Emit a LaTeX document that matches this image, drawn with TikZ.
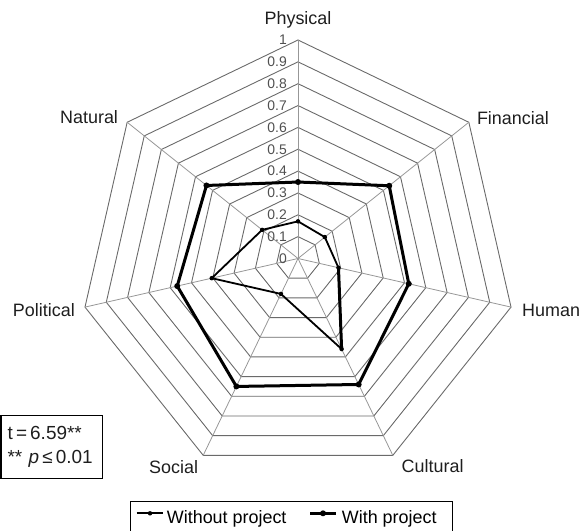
\documentclass[tikz,border=0pt]{standalone}
\usepackage{fontspec}
\setmainfont{Liberation Sans}
\usepackage{tikz}
\usetikzlibrary{positioning,calc}
\definecolor{gridgray}{HTML}{6A6A6A}
\definecolor{tickgray}{HTML}{505050}
\definecolor{labelgray}{HTML}{1E1E1E}

\begin{document}
\begin{tikzpicture}[
  x=1bp, y=1bp,
  axislabel/.style={font=\fontsize{18}{21}\selectfont, text=labelgray, inner sep=0pt},
  ticklabel/.style={font=\fontsize{14}{16}\selectfont, text=tickgray, anchor=east, inner sep=0pt},
  ring/.style={draw=gridgray, line width=0.9bp},
  spoke/.style={draw=gridgray!70, line width=0.8bp},
  noproj/.style={draw=black, line width=1.8bp, line join=round},
  yesproj/.style={draw=black, line width=3bp, line join=round},
  ptdot/.style={circle, fill=black, inner sep=0pt, minimum size=#1},
  infobox/.style={draw=black, line width=1.2bp, inner sep=0pt}
]
  \useasboundingbox (0,0) rectangle (580,531);

  % RADAR: centre, 0.1 per 21.85bp
  \begin{scope}[shift={(298,272.5)}]
    \coordinate (ctr) at (0,0);
    \foreach \name [count=\i from 0] in {phys,fin,hum,cult,soc,pol,nat}
      \coordinate (\name) at ({90-\i*360/7}:218.5);

    % rings 0.1 .. 1
    \foreach \k in {1,...,10}
      \draw[ring] (90:{\k*21.85}) \foreach \i in {1,...,6} { -- ({90-\i*360/7}:{\k*21.85}) } -- cycle;

    % spokes
    \foreach \name in {phys,fin,hum,cult,soc,pol,nat}
      \draw[spoke] (ctr) -- (\name);

    % scale labels
    \foreach \v [count=\k from 0] in {0,0.1,0.2,0.3,0.4,0.5,0.6,0.7,0.8,0.9,1}
      \node[ticklabel] (tick\k) at (-11,{\k*21.85}) {\v};

    % Without project
    \foreach \v [count=\i from 0] in {0.17,0.157,0.19,0.46,0.18,0.405,0.21}
      \coordinate (wo\i) at ({90-\i*360/7}:{\v*218.5});
    \draw[noproj] (wo0) -- (wo1) -- (wo2) -- (wo3) -- (wo4) -- (wo5) -- (wo6) -- cycle;
    \draw[yesproj] (wo2) -- (wo3);
    \foreach \i in {0,...,6}
      \node[ptdot=4.5bp] (dwo\i) at (wo\i) {};

    % With project
    \foreach \v [count=\i from 0] in {0.35,0.534,0.52,0.64,0.65,0.567,0.536}
      \coordinate (wp\i) at ({90-\i*360/7}:{\v*218.5});
    \draw[yesproj] (wp0) -- (wp1) -- (wp2) -- (wp3) -- (wp4) -- (wp5) -- (wp6) -- cycle;
    \foreach \i in {0,...,6}
      \node[ptdot=6bp] (dwp\i) at (wp\i) {};
  \end{scope}

  % Axis names
  \node[axislabel, above=12bp of phys] (lphys) {Physical};
  \node[axislabel, anchor=base west] (lfin) at ($(fin)+(8,-2)$) {Financial};
  \node[axislabel, anchor=west] (lhum) at ($(hum)+(11,-3)$) {Human};
  \node[axislabel, anchor=north west] (lcult) at ($(cult)+(8.7,-4)$) {Cultural};
  \node[axislabel, anchor=north east] (lsoc) at ($(soc)+(-5,-5)$) {Social};
  \node[axislabel, anchor=east] (lpol) at ($(pol)+(-10,-2.5)$) {Political};
  \node[axislabel, anchor=east] (lnat) at ($(nat)+(-9,4.7)$) {Natural};

  % Test statistic
  \node[infobox, anchor=north west, text width=88bp, minimum height=63bp, inner xsep=6.5bp,
        align=left, font=\fontsize{19}{24}\selectfont, text=labelgray] (stats) at (0.5,116)
        {t\,=\,6.59**\\{}** \textit{p}\,≤\,0.01};

  % Legend
  \node[infobox, anchor=north west, minimum width=322bp, minimum height=34bp] (legend) at (130,30) {};
  \coordinate (woA) at (136.7,17.7);
  \coordinate (woB) at (163.3,17.7);
  \draw[noproj] (woA) -- (woB);
  \node[ptdot=4.5bp] (woK) at ($(woA)!0.5!(woB)$) {};
  \node[axislabel, text=black, anchor=base west] (lwo) at (166.7,7) {Without project};
  \coordinate (wpA) at (310,17.7);
  \coordinate (wpB) at (336,17.7);
  \draw[yesproj] (wpA) -- (wpB);
  \node[ptdot=6bp] (wpK) at ($(wpA)!0.5!(wpB)$) {};
  \node[axislabel, text=black, anchor=base west] (lwp) at (341.7,7) {With project};

\end{tikzpicture}
\end{document}
